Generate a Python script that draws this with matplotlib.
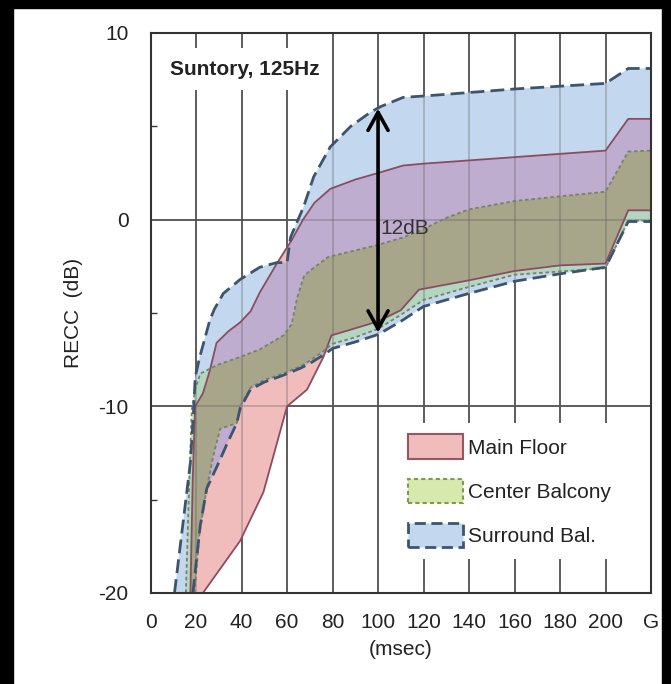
import matplotlib
matplotlib.use("Agg")
import matplotlib.pyplot as plt
from matplotlib.patches import Patch, Rectangle

# ---------------- data ----------------
x_ticks = [0, 20, 40, 60, 80, 100, 120, 140, 160, 180, 200, 220]
x_tick_labels = ["0", "20", "40", "60", "80", "100", "120", "140", "160", "180", "200", "G"]
y_ticks = [-20, -10, 0, 10]
y_tick_labels = ["-20", "-10", "0", "10"]
y_minor_ticks = [-15, -5, 5]
grid_y = [0, -10]

series_labels = ["Main Floor", "Center Balcony", "Surround Bal."]

main_upper_x = [17.5, 18.5, 19.6, 23, 26, 29, 34, 39.4, 44, 48, 55.5, 62, 67, 72, 79, 90, 100, 111, 120, 160, 200, 210, 220]
main_upper_y = [-20, -14, -10.0, -9.3, -8.1, -6.6, -6.0, -5.5, -4.9, -3.9, -2.35, -1.1, 0.0, 0.9, 1.65, 2.15, 2.5, 2.9, 3.0, 3.35, 3.7, 5.4, 5.4]
main_lower_x = [23, 39.4, 49.6, 60, 68.8, 76, 79.5, 85, 100, 110, 118, 140, 160, 180, 200, 210, 220]
main_lower_y = [-20, -17.2, -14.6, -10.0, -9.1, -7.35, -6.2, -6.0, -5.45, -4.85, -3.75, -3.25, -2.75, -2.45, -2.35, 0.5, 0.5]

center_upper_x = [15.5, 17, 18.1, 19.6, 21.8, 29, 39.4, 48, 58.4, 62, 64.4, 67.5, 70.2, 78, 100, 111, 120, 130, 140, 160, 200, 210, 220]
center_upper_y = [-20, -14, -10.2, -9.1, -8.25, -7.8, -7.35, -6.95, -6.2, -5.6, -4.2, -3.0, -2.72, -2.0, -1.35, -0.95, -0.5, 0.1, 0.55, 1.0, 1.5, 3.65, 3.7]
center_lower_x = [19.3, 21.5, 24.7, 27.5, 30.6, 37.9, 39.4, 43.9, 49.7, 58, 66, 70, 76, 80, 90, 100, 110, 120, 140, 160, 200, 210, 220]
center_lower_y = [-20, -16.8, -14.4, -12.7, -11.2, -10.9, -10.0, -9.0, -8.6, -8.25, -7.85, -7.55, -7.05, -6.65, -6.3, -5.85, -5.1, -4.3, -3.6, -2.95, -2.6, -0.05, -0.05]

surround_upper_x = [10.5, 14.5, 17.5, 18.8, 19.6, 21.5, 23.2, 26, 28, 32, 39.4, 48, 55.5, 60, 61.5, 63.6, 67.3, 71.7, 79, 88, 96.6, 101, 111, 123, 160, 200, 210, 220]
surround_upper_y = [-20, -16, -13, -10.5, -8.45, -7.4, -6.65, -5.4, -4.8, -3.95, -3.2, -2.55, -2.3, -2.3, -0.95, -0.35, 0.7, 2.3, 3.9, 5.0, 5.75, 6.05, 6.55, 6.65, 7.0, 7.3, 8.1, 8.1]
surround_lower_x = [18.6, 21.8, 24.7, 30, 34, 37.9, 39.4, 43.9, 50, 58, 66, 70, 76, 80, 90, 100, 110, 120, 140, 160, 180, 200, 210, 220]
surround_lower_y = [-20, -16.4, -14.4, -13.0, -11.9, -10.9, -10.1, -9.1, -8.7, -8.35, -7.95, -7.7, -7.25, -6.9, -6.55, -6.15, -5.45, -4.65, -3.95, -3.3, -2.9, -2.55, -0.1, -0.1]

arrow_x = 100
arrow_low = -6.05
arrow_high = 5.95
arrow_label = "12dB"
title_text = "Suntory, 125Hz"

# ---------------- style ----------------
plt.rcParams['font.family'] = ['Liberation Sans', 'DejaVu Sans']
plt.rcParams['axes.unicode_minus'] = False
FS = 15
TXT = '#222222'
PINK = '#f1bcbc'
GREEN = '#d8e9ad'
BLUE = '#c3d8ee'
PURPLE = '#bfadcf'
TEAL = '#b2d7c0'
OLIVE = '#a7a68b'
MAIN_EDGE = '#8a4d60'
CENTER_EDGE = '#7a806a'
SUR_EDGE = '#3e546c'
GRID = '#555555'

W, H = 671, 684
fig = plt.figure(figsize=(W / 100, H / 100), dpi=100)
fig.patch.set_facecolor('white')
ax_l, ax_r, ax_t, ax_b = 150.6, 651.0, 33.0, 593.0
ax = fig.add_axes([ax_l / W, 1 - ax_b / H, (ax_r - ax_l) / W, (ax_b - ax_t) / H])
ax.set_xlim(0, 220)
ax.set_ylim(-20, 10)


def polygon(ux, uy, lx, ly):
    return list(ux) + list(lx)[::-1], list(uy) + list(ly)[::-1]


mx, my = polygon(main_upper_x, main_upper_y, main_lower_x, main_lower_y)
cx, cy = polygon(center_upper_x, center_upper_y, center_lower_x, center_lower_y)
sx, sy = polygon(surround_upper_x, surround_upper_y, surround_lower_x, surround_lower_y)

# grid under fills
for xv in x_ticks[1:-1]:
    ax.axvline(xv, color=GRID, lw=1.3, zorder=0.5)
for yv in grid_y:
    ax.axhline(yv, color=GRID, lw=1.3, zorder=0.5)

# base fills
blue_p = ax.fill(sx, sy, facecolor=BLUE, edgecolor='none', zorder=1.0)[0]
green_p = ax.fill(cx, cy, facecolor=GREEN, edgecolor='none', zorder=1.1)[0]
pink_p = ax.fill(mx, my, facecolor=PINK, edgecolor='none', zorder=1.2)[0]
# overlaps
pur = ax.fill(mx, my, facecolor=PURPLE, edgecolor='none', zorder=1.3)[0]
pur.set_clip_path(blue_p)
tea = ax.fill(cx, cy, facecolor=TEAL, edgecolor='none', zorder=1.4)[0]
tea.set_clip_path(blue_p)
oli = ax.fill(mx, my, facecolor=OLIVE, edgecolor='none', zorder=1.5)[0]
oli.set_clip_path(green_p)

# grid showing through fills
for xv in x_ticks[1:-1]:
    ax.axvline(xv, color=GRID, lw=1.2, alpha=0.35, zorder=2.5)
for yv in grid_y:
    ax.axhline(yv, color=GRID, lw=1.2, alpha=0.35, zorder=2.5)

# outlines
ax.plot(main_upper_x, main_upper_y, color=MAIN_EDGE, lw=1.3, zorder=3)
ax.plot(main_lower_x, main_lower_y, color=MAIN_EDGE, lw=1.3, zorder=3)
ax.plot(center_upper_x, center_upper_y, color=CENTER_EDGE, lw=1.3, ls=(0, (2, 1.5)), zorder=3.1)
ax.plot(center_lower_x, center_lower_y, color=CENTER_EDGE, lw=1.3, ls=(0, (2, 1.5)), zorder=3.1)
ax.plot(surround_upper_x, surround_upper_y, color=SUR_EDGE, lw=2.0, ls=(0, (5, 2.2)), zorder=3.2)
ax.plot(surround_lower_x, surround_lower_y, color=SUR_EDGE, lw=2.0, ls=(0, (5, 2.2)), zorder=3.2)

# 12 dB arrow
ax.annotate('', xy=(arrow_x, arrow_high), xytext=(arrow_x, arrow_low),
            arrowprops=dict(arrowstyle='<->,head_length=0.65,head_width=0.36', lw=2.6,
                            color='black', mutation_scale=20, shrinkA=0, shrinkB=0),
            zorder=4)
ax.text(arrow_x + 1, (arrow_low + arrow_high) / 2 - 0.45, arrow_label, fontsize=FS,
        color='#333333', ha='left', va='center', zorder=4)

# title with white box
ax.add_patch(Rectangle((0.023, 0.898), 0.333, 0.075, transform=ax.transAxes,
                       facecolor='white', edgecolor='none', zorder=4.5))
ax.text(0.039, 0.935, title_text, transform=ax.transAxes, fontsize=FS, fontweight='bold',
        color=TXT, ha='left', va='center', zorder=5)

# legend
handles = [
    Patch(facecolor=PINK, edgecolor='#9a5560', lw=1.5, label=series_labels[0]),
    Patch(facecolor=GREEN, edgecolor='#7e9a52', lw=1.5, ls=(0, (2, 1.5)), label=series_labels[1]),
    Patch(facecolor=BLUE, edgecolor=SUR_EDGE, lw=2.0, ls=(0, (4, 2)), label=series_labels[2]),
]
leg = ax.legend(handles=handles, loc='upper left', bbox_to_anchor=(0.4924, 0.3036),
                frameon=True, fancybox=False, edgecolor='none', facecolor='white', framealpha=1,
                fontsize=FS, handlelength=2.6, handleheight=1.43, handletextpad=0.25,
                labelspacing=0.95, borderpad=0.55, borderaxespad=0)
for t in leg.get_texts():
    t.set_color(TXT)
leg.set_zorder(6)

# ticks and labels
ax.set_xticks(x_ticks)
ax.set_xticklabels(x_tick_labels)
ax.set_yticks(y_ticks)
ax.set_yticklabels(y_tick_labels)
ax.set_yticks(y_minor_ticks, minor=True)
ax.tick_params(axis='both', which='major', length=0, labelsize=FS, labelcolor=TXT)
ax.tick_params(axis='x', which='major', pad=14.4)
ax.tick_params(axis='y', which='major', pad=15.8)
ax.tick_params(axis='y', which='minor', direction='in', length=4, width=1, color='#333333')
ax.tick_params(axis='x', which='minor', length=0)
for s in ax.spines.values():
    s.set_linewidth(1.5)
    s.set_color('#333333')
    s.set_zorder(7)

ax.set_xlabel('(msec)', fontsize=FS, color=TXT)
ax.xaxis.set_label_coords(0.5, -0.084)
ax.set_ylabel('RECC  (dB)', fontsize=FS, color=TXT)
ax.yaxis.set_label_coords(-0.135, 0.5)

# dark frame of the original scan
fig.add_artist(Rectangle((0, 0), 13 / W, 1, transform=fig.transFigure, color='black', zorder=10))
fig.add_artist(Rectangle((0, 1 - 8 / H), 1, 8 / H, transform=fig.transFigure, color='black', zorder=10))
fig.add_artist(Rectangle((1 - 9 / W, 0), 9 / W, 1, transform=fig.transFigure, color='black', zorder=10))

fig.savefig('out.png', dpi=100, facecolor='white')
